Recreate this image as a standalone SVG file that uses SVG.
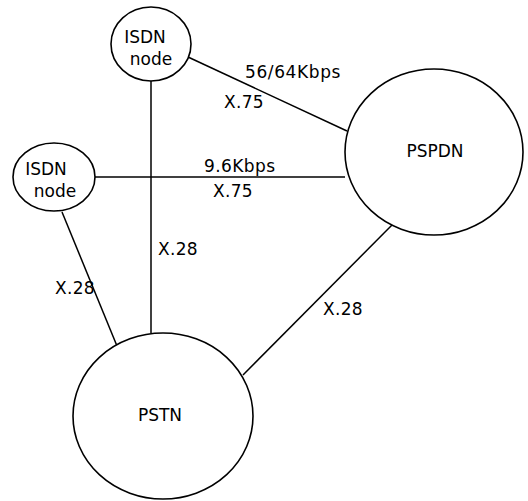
<svg xmlns="http://www.w3.org/2000/svg" width="528" height="501" viewBox="0 0 528 501">
<style>
.n{fill:#fff;stroke:#000;stroke-width:1.6}
.c line{stroke:#000;stroke-width:1.5}
text{font-family:"DejaVu Sans","Liberation Sans",sans-serif;font-size:17px;fill:#000}
.m{text-anchor:middle}
</style>
<rect width="528" height="501" fill="#fff"/>
<g id="connectors" class="c">
<line x1="188" y1="57" x2="347" y2="131"/>
<line x1="95" y1="177" x2="345" y2="177"/>
<line x1="151" y1="81" x2="151" y2="333"/>
<line x1="62" y1="212" x2="117" y2="346"/>
<line x1="392" y1="225" x2="243" y2="375"/>
</g>
<g id="labels">
<text x="245" y="78" letter-spacing="0.6">56/64Kbps</text>
<text x="224" y="108" letter-spacing="0.3">X.75</text>
<text x="204" y="172" letter-spacing="0.4">9.6Kbps</text>
<text x="213" y="197" letter-spacing="0.3">X.75</text>
<text x="158" y="255" letter-spacing="0.3">X.28</text>
<text x="55" y="294" letter-spacing="0.3">X.28</text>
<text x="323" y="315" letter-spacing="0.3">X.28</text>
</g>
<g id="isdn-top">
<ellipse class="n" cx="151" cy="44" rx="40" ry="37"/>
<text class="m" x="145" y="43">ISDN</text>
<text class="m" x="151" y="65">node</text>
</g>
<g id="isdn-left">
<ellipse class="n" cx="54" cy="177" rx="41" ry="34"/>
<text class="m" x="46" y="175">ISDN</text>
<text class="m" x="55" y="197">node</text>
</g>
<g id="pspdn">
<ellipse class="n" cx="434" cy="152" rx="89" ry="83"/>
<text class="m" x="435" y="157">PSPDN</text>
</g>
<g id="pstn">
<ellipse class="n" cx="163" cy="416" rx="90" ry="83"/>
<text class="m" x="160" y="421">PSTN</text>
</g>
</svg>
